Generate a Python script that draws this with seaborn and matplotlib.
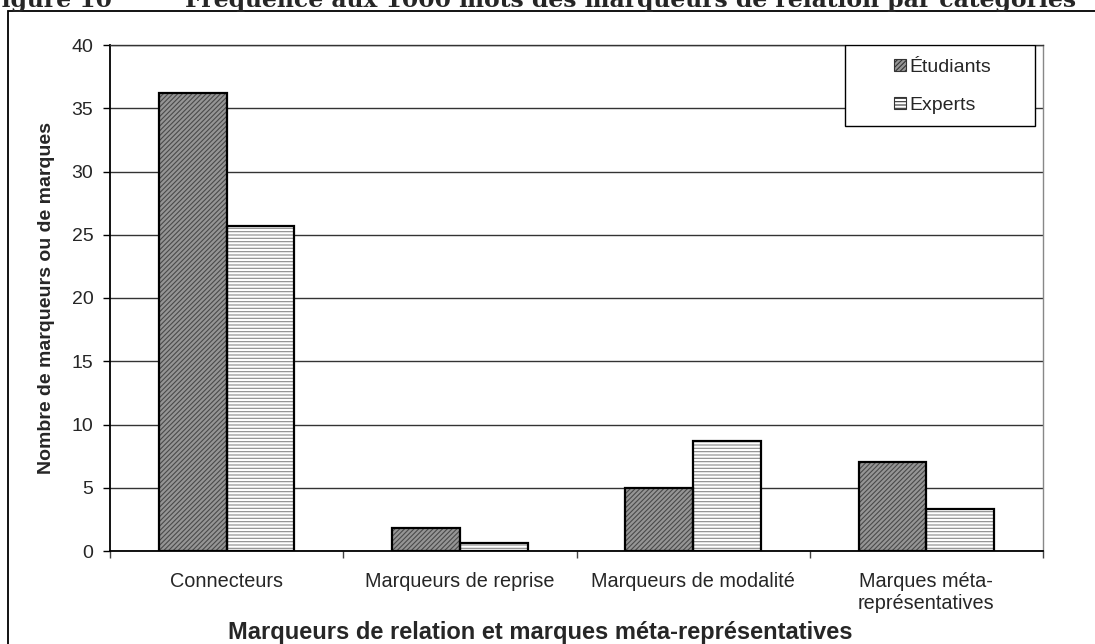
import matplotlib
matplotlib.use("Agg")
import matplotlib.pyplot as plt
import matplotlib.patches as mpatches
import pandas as pd
import seaborn as sns

# Data: frequency per 1000 words of relation markers, by category
categories = ["Connecteurs", "Marqueurs de reprise", "Marqueurs de modalité",
              "Marques méta-\nreprésentatives"]
groups = ["Étudiants", "Experts"]
etudiants = [36.2, 1.8, 5.0, 7.0]
experts = [25.7, 0.6, 8.7, 3.3]
y_ticks = [0, 5, 10, 15, 20, 25, 30, 35, 40]

df = pd.DataFrame({
    "categorie": categories * 2,
    "groupe": [groups[0]] * len(categories) + [groups[1]] * len(categories),
    "valeur": etudiants + experts,
})

sns.set_theme(style="white")
plt.rcParams["font.family"] = ["Liberation Sans", "DejaVu Sans"]
plt.rcParams["hatch.linewidth"] = 0.8

fig = plt.figure(figsize=(10.95, 6.44), dpi=100)
ax = fig.add_axes([110 / 1095, 1 - 551 / 644, 933 / 1095, 506 / 644])

face = {"Étudiants": "#959595", "Experts": "#ffffff"}
hatch = {"Étudiants": "///////", "Experts": "-----"}
hatch_col = {"Étudiants": "#4a4a4a", "Experts": "#8a8a8a"}

sns.barplot(data=df, x="categorie", y="valeur", hue="groupe", order=categories,
            hue_order=groups, palette=face, width=0.58, saturation=1,
            legend=False, ax=ax, zorder=3)

for cont, g in zip(ax.containers, groups):
    for p in cont:
        p.set_hatch(hatch[g])
        p.set_edgecolor(hatch_col[g])
        p.set_linewidth(0)
        ax.add_patch(mpatches.Rectangle(p.get_xy(), p.get_width(), p.get_height(),
                                        fill=False, edgecolor="black",
                                        linewidth=1.6, zorder=4))

ax.set_ylim(0, 40)
ax.set_xlim(-0.5, len(categories) - 0.5)
ax.set_yticks(y_ticks)
ax.set_yticklabels([str(v) for v in y_ticks], fontsize=14)
ax.tick_params(axis="y", direction="out", length=5, width=1, color="black",
               left=True, pad=7)
ax.set_xticks(range(len(categories)))
ax.set_xticklabels(categories, fontsize=14.3, linespacing=1.2)
ax.tick_params(axis="x", which="major", length=0, pad=15)
ax.set_xticks([i - 0.5 for i in range(len(categories) + 1)], minor=True)
ax.tick_params(axis="x", which="minor", direction="out", length=5, width=1,
               color="#444444", bottom=True)

ax.yaxis.grid(True, color="#333333", linewidth=1.0, zorder=0)
ax.set_axisbelow(True)

for side in ["left", "bottom"]:
    ax.spines[side].set_color("black")
    ax.spines[side].set_linewidth(1.3)
ax.spines["top"].set_color("#333333")
ax.spines["top"].set_linewidth(1.0)
ax.spines["right"].set_color("#888888")
ax.spines["right"].set_linewidth(1.0)

ax.set_xlabel("Marqueurs de relation et marques méta-représentatives",
              fontsize=17, fontweight="bold")
ax.xaxis.set_label_coords(0.461, -0.139)
ax.set_ylabel("Nombre de marqueurs ou de marques", fontsize=14,
              fontweight="bold", labelpad=12)

# Legend box in the upper-right corner of the plot area
ax.add_patch(mpatches.Rectangle((0.788, 0.8405), 0.2034, 0.1595,
                                transform=ax.transAxes, facecolor="white",
                                edgecolor="black", linewidth=1.0, zorder=5))
handles = [mpatches.Patch(facecolor=face[g], hatch=hatch[g], edgecolor=hatch_col[g],
                          linewidth=0) for g in groups]
leg = ax.legend(handles, groups, loc="center", bbox_to_anchor=(0.8925, 0.9185),
                frameon=False, fontsize=14, handlelength=0.6, handleheight=0.6,
                handletextpad=0.2, labelspacing=1.1)
leg.set_zorder(6)
for h in leg.legend_handles:
    h.set_edgecolor("#333333")
    h.set_linewidth(0.8)

# Outer chart frame, running past the right and bottom edges of the image
fig.patches.append(mpatches.Rectangle((8 / 1095, -0.05), 1.2, 1.05 - 10.5 / 644,
                                      transform=fig.transFigure, fill=False,
                                      edgecolor="black", linewidth=1.3))

# Figure caption above the frame
fig.text(-15 / 1095, 1 - 7 / 644, "Figure 10", family="DejaVu Serif",
         fontweight="bold", fontsize=16.9, va="baseline", ha="left")
fig.text(185 / 1095, 1 - 7 / 644,
         "Fréquence aux 1000 mots des marqueurs de relation par catégories",
         family="DejaVu Serif", fontweight="bold", fontsize=16.9, va="baseline",
         ha="left")

fig.savefig("out.png", dpi=100)
